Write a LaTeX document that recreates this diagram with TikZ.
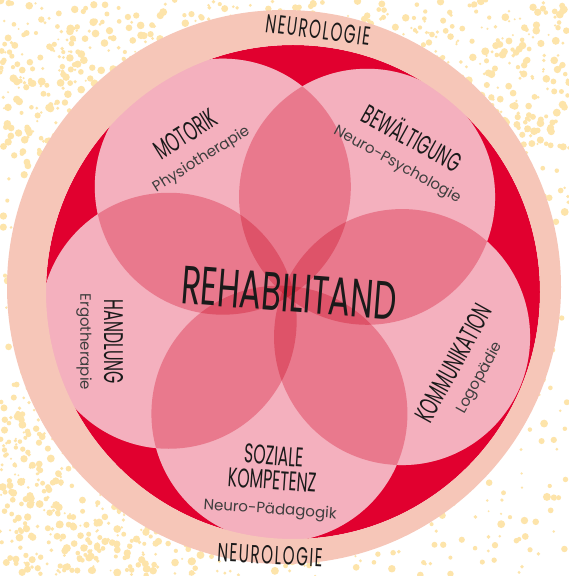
\documentclass[tikz,border=0pt]{standalone}
\usepackage{fontspec}
\setmainfont{Poppins}
\newfontfamily\condfont[FakeStretch=0.58]{Poppins}
\newfontfamily\rehabfont[FakeStretch=0.6]{Poppins}
\newfontfamily\ringfont[FakeStretch=0.58,LetterSpace=6]{Poppins}
\usetikzlibrary{positioning}
\definecolor{peach}{RGB}{246,198,184}
\definecolor{rehared}{RGB}{225,0,47}
\definecolor{petal}{RGB}{244,176,190}
\definecolor{speck}{RGB}{253,228,170}
\definecolor{ink}{RGB}{26,26,26}
\definecolor{subink}{RGB}{62,62,62}
\newcommand{\fieldname}[1]{{\condfont\fontsize{27}{27}\selectfont #1}}
\newcommand{\therapy}[1]{{\color{subink}\fontsize{15}{15}\selectfont #1}}
\tikzset{
  field/.style={align=center, text=ink, inner sep=0pt, font=\fontsize{23}{24.5}\selectfont},
  ring/.style={text=ink, inner sep=0pt, font=\ringfont\fontsize{26}{26}\selectfont},
  petalcircle/.style={fill=petal}
}

\begin{document}
\begin{tikzpicture}[x=1pt, y=1pt]
  \useasboundingbox (0,0) rectangle (569,576);
  \fill[white] (0,0) rectangle (569,576);
  \pgfmathsetseed{11}
  \foreach \k in {1,...,1100} {
    \pgfmathsetmacro\sx{569*rnd}
    \pgfmathsetmacro\sy{576*rnd}
    \pgfmathsetmacro\sr{1+3*rnd}
    \fill[speck] (\sx,\sy) circle (\sr);
  }
  \foreach \k in {1,...,700} {
    \pgfmathsetmacro\sx{569*rnd}
    \pgfmathsetmacro\sy{420+156*rnd}
    \pgfmathsetmacro\sr{1+3*rnd}
    \fill[speck] (\sx,\sy) circle (\sr);
  }
  \foreach \k in {1,...,400} {
    \pgfmathsetmacro\sx{200*rnd}
    \pgfmathsetmacro\sy{180*rnd}
    \pgfmathsetmacro\sr{1+3*rnd}
    \fill[speck] (\sx,\sy) circle (\sr);
  }

  \coordinate (outer) at (284,289);
  \coordinate (inner) at (293,284);
  \coordinate (ctr) at (288,285);
  \fill[rehared] (inner) circle (247);

  \foreach \a in {50,122,194,266,338}
    \fill[white] (ctr) ++(\a:123) circle (128);
  \begin{scope}[blend mode=multiply]
    \foreach \a in {50,122,194,266,338}
      \fill[petalcircle] (ctr) ++(\a:123) circle (128);
  \end{scope}

  \fill[peach, even odd rule] (outer) circle (277) (inner) circle (247);

  \node[ring, rotate=-7.5] (neurotop) at (318,546) {NEUROLOGIE};
  \node[ring, rotate=-3] (neurobot) at (270,21) {NEUROLOGIE};

  \node[text=ink, inner sep=0pt, rotate=-4.5,
        font=\rehabfont\fontsize{54}{54}\selectfont] (rehab) at (289,283) {REHABILITAND};

  \node[field, rotate=32] (motorik) at (193,430)
    {\fieldname{MOTORIK}\\\therapy{Physiotherapie}};
  \node[field, rotate=-29] (bewaelt) at (406,427)
    {\fieldname{BEWÄLTIGUNG}\\\therapy{Neuro-Psychologie}};
  \node[field, rotate=-90] (handlung) at (100,234)
    {\fieldname{HANDLUNG}\\\therapy{Ergotherapie}};
  \node[field, rotate=61] (kommunik) at (466,206)
    {\fieldname{KOMMUNIKATION}\\\therapy{Logopädie}};
  \node[field, rotate=-4] (sozial) at (272,94)
    {\fieldname{SOZIALE}\\\fieldname{KOMPETENZ}\\\therapy{Neuro-Pädagogik}};
\end{tikzpicture}
\end{document}
